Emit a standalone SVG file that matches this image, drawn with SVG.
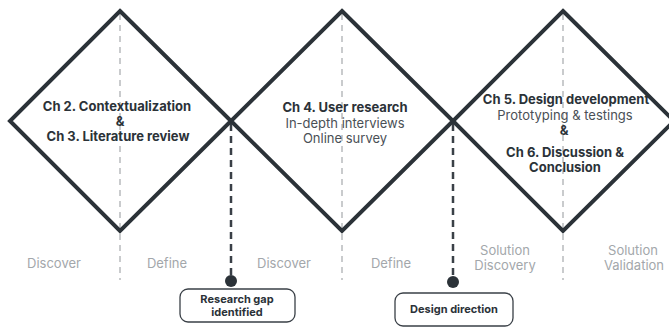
<svg xmlns="http://www.w3.org/2000/svg" width="669" height="329" viewBox="0 0 669 329">
<style>
.dia{fill:none;stroke:#2b3238;stroke-width:4;stroke-linejoin:miter}
.gl{stroke:#c9cbcd;stroke-width:2;stroke-dasharray:6 5}
.dl{stroke:#3a4047;stroke-width:2.5;stroke-dasharray:7 5}
.t{font-family:Inter,"Liberation Sans",sans-serif;font-size:13px;text-anchor:middle;fill:#2b3238}
.b{font-weight:700}
.r{fill:#4a5056}
.ph{font-family:Inter,"Liberation Sans",sans-serif;font-size:13px;text-anchor:middle;fill:#a3a7ab}
.box{fill:#fff;stroke:#3a4047;stroke-width:1.3}
.bt{font-family:Inter,"Liberation Sans",sans-serif;font-size:11px;font-weight:700;text-anchor:middle;fill:#2b3238}
</style>
<g id="guides">
<line class="gl" x1="120" y1="14" x2="120" y2="280"/>
<line class="gl" x1="342" y1="14" x2="342" y2="280"/>
<line class="gl" x1="563" y1="14" x2="563" y2="280"/>
</g>
<g id="connectors">
<line class="dl" x1="231" y1="124" x2="231" y2="276"/>
<circle cx="231" cy="281" r="6" fill="#2b3238"/>
<line class="dl" x1="453" y1="124" x2="453" y2="277"/>
<circle cx="453" cy="282" r="6" fill="#2b3238"/>
</g>
<g id="diamond1">
<polygon class="dia" points="120,11 231,121 120,231 10,121"/>
<text class="t b" x="117" y="111">Ch 2. Contextualization</text>
<text class="t b" x="120" y="126">&amp;</text>
<text class="t b" x="118" y="141">Ch 3. Literature review</text>
</g>
<g id="diamond2">
<polygon class="dia" points="342,11 453,121 342,231 231,121"/>
<text class="t b" x="345" y="112">Ch 4. User research</text>
<text class="t r" x="345" y="128">In-depth interviews</text>
<text class="t r" x="345" y="143">Online survey</text>
</g>
<g id="diamond3">
<polygon class="dia" points="563,11 674,121 563,231 453,121"/>
<text class="t b" x="566" y="104">Ch 5. Design development</text>
<text class="t r" x="565" y="120">Prototyping &amp; testings</text>
<text class="t b" x="564" y="135">&amp;</text>
<text class="t b" x="565" y="157">Ch 6. Discussion &amp;</text>
<text class="t b" x="565" y="172">Conclusion</text>
</g>
<g id="phases">
<text class="ph" x="54" y="268">Discover</text>
<text class="ph" x="167" y="268">Define</text>
<text class="ph" x="284" y="268">Discover</text>
<text class="ph" x="391" y="268">Define</text>
<text class="ph" x="505" y="255">Solution</text>
<text class="ph" x="505" y="270">Discovery</text>
<text class="ph" x="633" y="255">Solution</text>
<text class="ph" x="634" y="270">Validation</text>
</g>
<g id="gap">
<rect class="box" x="180" y="289" width="115" height="33" rx="8"/>
<text class="bt" x="237" y="303">Research gap</text>
<text class="bt" x="237" y="316">identified</text>
</g>
<g id="direction">
<rect class="box" x="395" y="293" width="118" height="33" rx="8"/>
<text class="bt" x="454" y="313">Design direction</text>
</g>
</svg>
